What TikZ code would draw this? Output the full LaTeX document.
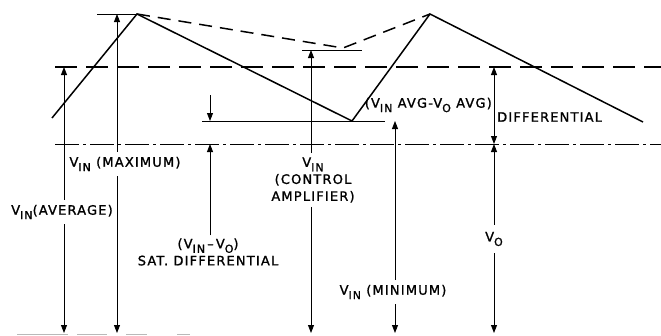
\documentclass[tikz,border=0pt]{standalone}
\usepackage{fontspec}
\setmainfont{DejaVu Sans}[LetterSpace=9, FakeBold=1.3]
\usetikzlibrary{arrows.meta}
\newcommand{\sbs}[1]{\raisebox{-0.34em}{\fontsize{11}{11}\selectfont #1}}
\begin{document}
\begin{tikzpicture}[x=1pt,y=-1pt,
  lab/.style={inner xsep=0pt, inner ysep=5pt, font=\fontsize{13}{17}\selectfont, align=center},
  arr/.style={line width=0.9pt, -{Triangle[length=8pt,width=6pt]}},
  arrboth/.style={line width=0.9pt, {Triangle[length=8pt,width=6pt]}-{Triangle[length=8pt,width=6pt]}},
  wave/.style={line width=1.5pt, line join=miter},
  env/.style={line width=1.5pt, dash pattern=on 13pt off 8pt},
  longdash/.style={line width=1.5pt, dash pattern=on 22pt off 9pt},
  dashdot/.style={line width=1pt, dash pattern=on 24pt off 4pt on 3pt off 4pt},
  thin/.style={line width=1pt}]
\useasboundingbox (0,0) rectangle (661,335);
% waveform and envelope
\draw[wave] (52,118) -- (137,14) -- (352,121) -- (430,14) -- (643,122);
\draw[env] (137,14) -- (343,48) -- (430,14);
% reference lines
\draw[thin] (97,14) -- (137,14);
\draw[thin] (302,50) -- (362,50);
\draw[thin] (202,121) -- (385,121);
\draw[longdash] (55,67) -- (661,67);
\draw[dashdot] (55,144) -- (661,144);
% faint bottom line
\draw[line width=1pt, gray!55] (17,334) -- (68,334) (77,334) -- (107,334) (126,334) -- (147,334) (177,334) -- (190,334);
% coordinates
\coordinate (avgtop) at (64,67);   \coordinate (avgbot) at (64,333);
\coordinate (maxtop) at (117,14);  \coordinate (maxbot) at (117,333);
\coordinate (sata) at (210,95);    \coordinate (satb) at (210,121);
\coordinate (satc) at (210,144);
\coordinate (ctltop) at (311,50);  \coordinate (ctlbot) at (311,333);
\coordinate (mintop) at (395,121); \coordinate (minbot) at (395,333);
\coordinate (diftop) at (494,67);  \coordinate (difbot) at (494,144);
\coordinate (vobot) at (494,333);
% labels
\node[lab] (lavg) at (62,212) {V\sbs{IN}(AVERAGE)};
\node[lab] (lmax) at (125,164) {V\sbs{IN} (MAXIMUM)};
\node[lab, inner ysep=3pt] (lsat) at (208,252) {(V\sbs{IN}\,–\,V\sbs{O})\\SAT. DIFFERENTIAL};
\node[lab, inner ysep=4pt] (lctl) at (313,180) {V\sbs{IN}\\(CONTROL\\AMPLIFIER)};
\node[lab] (lmin) at (393,292) {V\sbs{IN} (MINIMUM)};
\node[lab, inner ysep=7pt] (lvo) at (494,239) {V\sbs{O}};
\node[lab, anchor=east, inner ysep=0pt] (ldif) at (492,105) {(V\sbs{IN} AVG-V\sbs{O} AVG)};
\node[lab, anchor=west, inner ysep=0pt] (ldif2) at (497,117) {DIFFERENTIAL};
% arrows
\draw[arr] (lavg.north -| avgtop) -- (avgtop);
\draw[arr] (lavg.south -| avgbot) -- (avgbot);
\draw[arr] (lmax.north -| maxtop) -- (maxtop);
\draw[arr] (lmax.south -| maxbot) -- (maxbot);
\draw[arr] (sata) -- (satb);
\draw[arr] (lsat.north -| satc) -- (satc);
\draw[arr] (lctl.north -| ctltop) -- (ctltop);
\draw[arr] (lctl.south -| ctlbot) -- (ctlbot);
\draw[arr] (lmin.north -| mintop) -- (mintop);
\draw[arr] (lmin.south -| minbot) -- (minbot);
\draw[arrboth] (diftop) -- (difbot);
\draw[arr] (lvo.north) -- (difbot);
\draw[arr] (lvo.south) -- (vobot);
\end{tikzpicture}
\end{document}
